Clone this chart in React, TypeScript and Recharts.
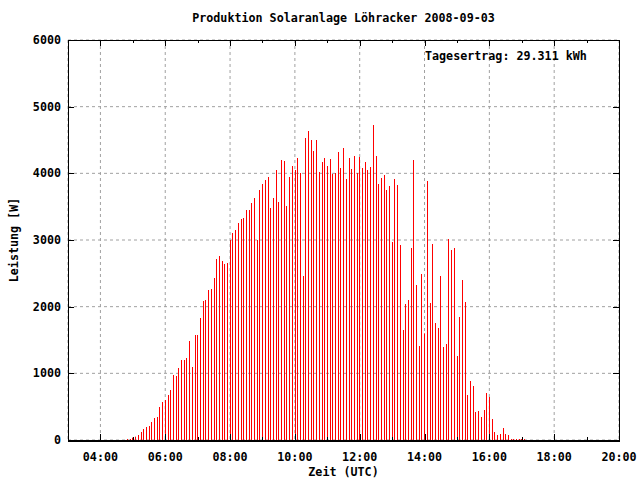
import React from 'react';
import { BarChart, Bar, XAxis, YAxis, CartesianGrid } from 'recharts';

const TITLE = 'Produktion Solaranlage Löhracker 2008-09-03';
const X_LABEL = 'Zeit (UTC)';
const Y_LABEL = 'Leistung [W]';
const YIELD_NOTE = 'Tagesertrag: 29.311 kWh';

// one reading every 5 minutes, first one at 04:50 UTC
const START_MIN = 4 * 60 + 50;
const STEP_MIN = 5;
const watts = [
  15, 15, 35, 50, 75, 120, 165, 195, 210, 270, 330, 345, 495, 570, 600, 675, 750, 975, 960, 1080,
  1200, 1200, 1230, 1485, 1095, 1575, 1575, 1830, 2085, 2100, 2250, 2265, 2430,
  2715, 2760, 2685, 2640, 2655, 3000, 3105, 3150, 3255, 3315, 3330, 3450, 3450, 3555, 3630, 3000,
  3750, 3840, 3900, 3945, 3480, 3630, 4050, 3570, 4200, 4185, 3510, 3945, 4110,
  4050, 4230, 4005, 2460, 4530, 4635, 4500, 4335, 4500, 4020, 4170, 4230, 4110, 4215, 3990, 4005,
  4320, 4080, 4380, 3915, 4230, 4065, 4260, 4005, 4245, 4080, 4170, 4050, 4095, 4725,
  4260, 3840, 3930, 3975, 3750, 3810, 2970, 3915, 3825, 2925, 1650, 2040, 2100, 2880, 4200, 2325,
  1410, 2490, 1600, 3885, 2055, 2940, 1755, 1680, 2460, 1395, 1440, 3015, 2850, 2880,
  1260, 1845, 2400, 2070, 675, 885, 810, 420, 435, 345, 450, 705, 645, 315, 120, 75, 90, 180, 90, 75,
  15, 15, 15, 15, 15, 15,
];

const hourTicks = [4, 6, 8, 10, 12, 14, 16, 18, 20];
const minorHourTicks = [5, 7, 9, 11, 13, 15, 17, 19];
const wattTicks = [0, 1000, 2000, 3000, 4000, 5000, 6000];

const data = watts.map((w, i) => ({ t: (START_MIN + i * STEP_MIN) / 60, w }));

const W = 640;
const H = 480;
const L = 68;
const R = 619;
const T = 40;
const B = 440;
const FONT = '"DejaVu Sans Mono", "Liberation Mono", monospace';
const FS = 11.7;

const fmtHour = (h: number) => `${String(h).padStart(2, '0')}:00`;
const crisp = (v: number) => Math.round(v) + 0.5;

function HourTick({ x, payload }: any) {
  const cx = crisp(x);
  return (
    <g>
      <line x1={cx} x2={cx} y1={B} y2={B - 6} stroke="#000" />
      <line x1={cx} x2={cx} y1={T} y2={T + 6} stroke="#000" />
      <text x={x} y={461} textAnchor="middle" fontFamily={FONT} fontSize={FS} fontWeight="bold" fill="#000">
        {fmtHour(payload.value)}
      </text>
    </g>
  );
}

function MinorTick({ x }: any) {
  const cx = crisp(x);
  return (
    <g>
      <line x1={cx} x2={cx} y1={B} y2={B - 3} stroke="#000" />
      <line x1={cx} x2={cx} y1={T} y2={T + 3} stroke="#000" />
    </g>
  );
}

function WattTick({ y, payload }: any) {
  const cy = crisp(y);
  return (
    <g>
      <line x1={L} x2={L + 6} y1={cy} y2={cy} stroke="#000" />
      <line x1={R - 6} x2={R} y1={cy} y2={cy} stroke="#000" />
      <text x={61} y={y + 4} textAnchor="end" fontFamily={FONT} fontSize={FS} fontWeight="bold" fill="#000">
        {payload.value}
      </text>
    </g>
  );
}

function Impulse(props: any) {
  const { x, y, width, height } = props;
  if (!height || height <= 0) return null;
  const cx = Math.round(x + width / 2 - 0.5);
  return <rect x={cx} y={y} width={1} height={height} fill="#ff0000" />;
}

export default function App() {
  const txt = { fontFamily: FONT, fontSize: FS, fontWeight: 'bold' as const, fill: '#000' };
  return (
    <div style={{ position: 'absolute', left: 0, top: 0, width: W, height: H, background: '#fff' }}>
      <BarChart
        width={W}
        height={H}
        data={data}
        margin={{ top: T, right: W - R, bottom: H - B - 2, left: L - 1 }}
      >
        <CartesianGrid stroke="#a0a0a0" strokeDasharray="3 3" />
        <XAxis
          dataKey="t"
          type="number"
          domain={[3, 20]}
          ticks={hourTicks}
          height={1}
          axisLine={false}
          tickLine={false}
          tick={<HourTick />}
          interval={0}
        />
        <XAxis
          xAxisId="minor"
          dataKey="t"
          type="number"
          domain={[3, 20]}
          ticks={minorHourTicks}
          height={1}
          axisLine={false}
          tickLine={false}
          tick={<MinorTick />}
          interval={0}
        />
        <YAxis
          type="number"
          domain={[0, 6000]}
          ticks={wattTicks}
          width={1}
          axisLine={false}
          tickLine={false}
          tick={<WattTick />}
          interval={0}
        />
        <Bar dataKey="w" barSize={1} shape={<Impulse />} isAnimationActive={false} />
      </BarChart>
      <svg
        width={W}
        height={H}
        style={{ position: 'absolute', left: 0, top: 0, pointerEvents: 'none' }}
      >
        <rect x={L + 0.5} y={T + 0.5} width={R - L} height={B - T} fill="none" stroke="#000" />
        <line x1={L} x2={R + 1} y1={B + 1.5} y2={B + 1.5} stroke="#000" />
        <text x={(L + R) / 2} y={22} textAnchor="middle" {...txt}>{TITLE}</text>
        <text x={(L + R) / 2} y={476} textAnchor="middle" {...txt}>{X_LABEL}</text>
        <text x={18} y={240} textAnchor="middle" transform="rotate(-90 18 240)" {...txt}>{Y_LABEL}</text>
        <text x={425} y={60} textAnchor="start" {...txt}>{YIELD_NOTE}</text>
      </svg>
    </div>
  );
}
